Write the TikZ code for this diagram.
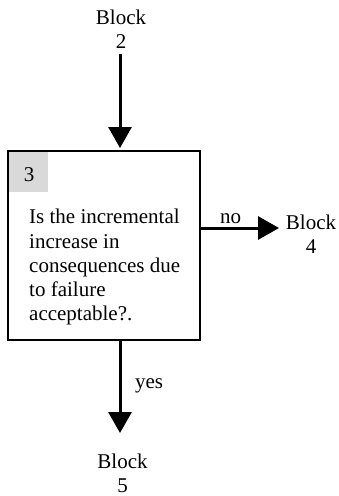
\documentclass[tikz,border=0pt]{standalone}
\usepackage{fontspec}
\setmainfont{Liberation Serif}
\usetikzlibrary{arrows.meta}
\begin{document}
\begin{tikzpicture}[x=1pt,y=-1pt,
  lbl/.style={font=\fontsize{21}{24.3}\selectfont, align=center, inner sep=0pt},
  arr/.style={line width=3pt, -{Triangle[width=23pt,length=21pt]}},
  boxline/.style={line width=2pt}]
\useasboundingbox (0,0) rectangle (339,496);
\node[lbl] (b2) at (121,29.5) {Block\\2};
\node[lbl] (b4) at (311,234) {Block\\4};
\node[lbl] (b5) at (122.5,473.5) {Block\\5};
\fill[black!15] (8,151) rectangle (48,192);
\node[draw, boxline, minimum width=192pt, minimum height=189pt, inner sep=0pt] (box) at (104,245.5) {};
\node[lbl] (num) at (29,175) {3};
\node[lbl, align=left, anchor=north west] (q) at (29,209) {Is the incremental\\increase in\\consequences due\\to failure\\acceptable?.};
\coordinate (topin) at (120,151);
\coordinate (rightout) at (200,228);
\coordinate (botout) at (120,340);
\draw[arr] (120,54) -- (120,148);
\draw[arr] (rightout) -- (279,228);
\draw[arr] (botout) -- (120,433);
\node[lbl] (no) at (230.5,219) {no};
\node[lbl] (yes) at (149,386) {yes};
\end{tikzpicture}
\end{document}
